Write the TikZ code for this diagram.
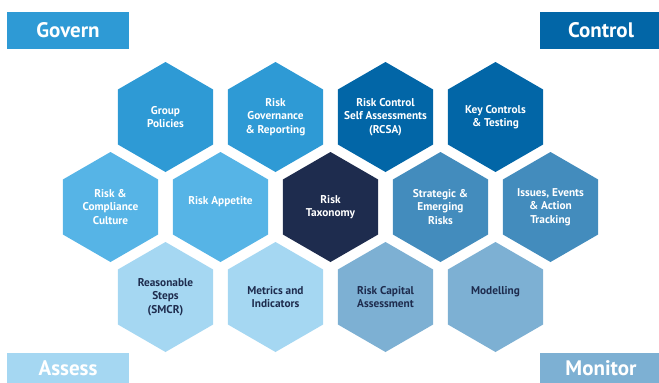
\documentclass[tikz,border=0pt]{standalone}
\usepackage{fontspec}
\setmainfont{PT Sans}
\usetikzlibrary{shapes.geometric}

\definecolor{governblue}{HTML}{2E9AD5}
\definecolor{controlblue}{HTML}{0266A7}
\definecolor{appetiteblue}{HTML}{56B4E6}
\definecolor{taxonomynavy}{HTML}{1E2C4E}
\definecolor{trackingblue}{HTML}{438CBD}
\definecolor{assessblue}{HTML}{A5D7F2}
\definecolor{monitorblue}{HTML}{7DB0D3}

\begin{document}
\begin{tikzpicture}[
    x=1pt, y=-1pt,
    hex/.style={regular polygon, regular polygon sides=6, shape border rotate=90,
        minimum size=110pt, inner sep=-8pt, fill=#1, text=white, align=center,
        font=\bfseries\fontsize{11.3}{13.3}\selectfont},
    darkhex/.style={hex=#1, text=taxonomynavy},
    tag/.style={fill=#1, text=white, minimum width=122pt, minimum height=37pt,
        inner sep=0pt, font=\bfseries\fontsize{21}{24}\selectfont}
]

\useasboundingbox (0,0) rectangle (659,383);

% corner tags
\node[tag=governblue] (govern) at (68,30.5) {Govern};
\node[tag=controlblue] (control) at (601,30.5) {Control};
\node[tag=assessblue, minimum height=30pt] (assess) at (68,368) {Assess};
\node[tag=monitorblue, minimum height=30pt] (monitor) at (601,368) {Monitor};

% top row
\node[hex=governblue] (policies) at (165.5,117) {Group\\Policies};
\node[hex=governblue] (governance) at (275.5,117) {Risk\\Governance\\\& Reporting};
\node[hex=controlblue] (rcsa) at (385.5,117) {Risk Control\\Self Assessments\\(RCSA)};
\node[hex=controlblue] (keycontrols) at (495.5,117) {Key Controls\\\& Testing};

% middle row
\node[hex=appetiteblue] (culture) at (110.5,207) {Risk \&\\Compliance\\Culture};
\node[hex=appetiteblue] (appetite) at (220.5,207) {Risk Appetite\\~};
\node[hex=taxonomynavy] (taxonomy) at (330.5,207) {Risk\\Taxonomy};
\node[hex=trackingblue] (emerging) at (440.5,207) {Strategic \&\\Emerging\\Risks};
\node[hex=trackingblue] (tracking) at (550.5,207) {Issues, Events\\\& Action\\Tracking};

% bottom row
\node[darkhex=assessblue] (steps) at (165.5,297) {Reasonable\\Steps\\(SMCR)};
\node[darkhex=assessblue] (metrics) at (275.5,297) {Metrics and\\Indicators};
\node[darkhex=monitorblue] (capital) at (385.5,297) {Risk Capital\\Assessment};
\node[darkhex=monitorblue] (modelling) at (495.5,297) {Modelling\\~};

\end{tikzpicture}
\end{document}
